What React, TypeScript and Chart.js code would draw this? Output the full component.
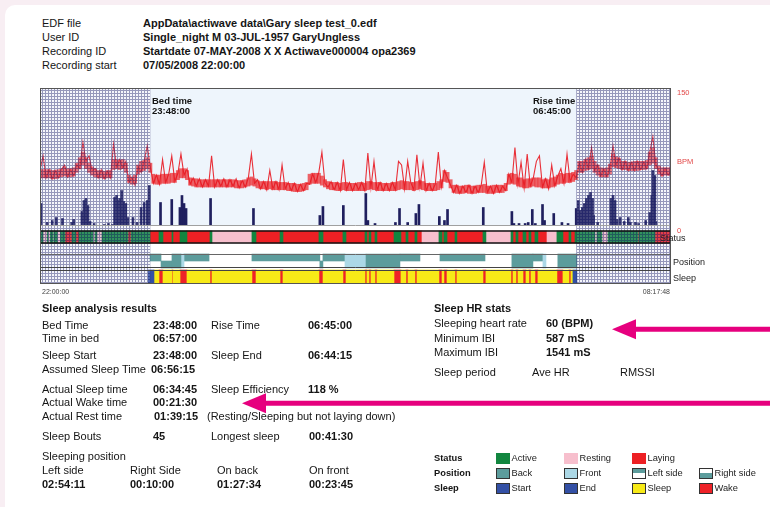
import React, { useEffect, useRef } from 'react';
import { Chart, registerables } from 'chart.js';
Chart.register(...registerables);

const FONT = 'Arial, "Liberation Sans", Helvetica, sans-serif';

// ---- time axis: minutes after 22:00:00 ----
const timeTickLabels = ['22:00:00', '08:17:48'];
const TOTAL_MIN = 617.8; // 08:17:48
const BED_MIN = 108; // 23:48:00
const RISE_MIN = 525; // 06:45:00
const HR_STEP_MIN = 3;

// ---- heart rate axis ----
const hrTickValues = [0, 75, 150];
const hrTickLabels = ['0', 'BPM', '150'];

// heart rate (BPM), one reading every 3 minutes
const hrBpm = [
  60, 76, 52, 61, 51, 60, 52, 61, 66, 53, 61, 54, 66, 62, 91, 70, 76, 60, 62, 52,
  61, 51, 59, 52, 89, 64, 72, 63, 70, 47, 52, 44, 64, 58, 70, 87, 64, 46, 55, 45,
  72, 47, 56, 76, 48, 57, 78, 55, 62, 45, 52, 43, 51, 42, 50, 43, 76, 42, 50, 43,
  51, 42, 50, 43, 51, 41, 49, 42, 52, 78, 46, 50, 40, 48, 39, 60, 40, 48, 39, 66,
  40, 47, 38, 46, 37, 45, 38, 46, 45, 56, 47, 58, 80, 46, 42, 48, 39, 47, 38, 72,
  39, 47, 38, 46, 39, 47, 38, 79, 41, 70, 39, 47, 38, 46, 38, 47, 39, 70, 66, 40,
  70, 47, 39, 77, 42, 68, 38, 46, 38, 45, 80, 42, 60, 52, 44, 36, 44, 35, 43, 36,
  44, 35, 43, 36, 44, 69, 36, 43, 35, 44, 36, 43, 38, 56, 47, 85, 45, 69, 41, 78,
  43, 52, 70, 76, 42, 51, 40, 66, 43, 54, 62, 46, 78, 48, 56, 52, 68, 58, 72, 62,
  85, 60, 66, 54, 62, 53, 63, 87, 66, 74, 61, 70, 60, 69, 60, 70, 61, 69, 62, 80,
  97, 66, 60, 54, 62, 55, 60,
];
// lowest / highest beat rate inside each 3 minute epoch (spikes excluded)
const hrLow = [
  52, 52, 52, 52, 51, 51, 52, 53, 54, 53, 53, 54, 58, 62, 66, 62, 58, 55, 53, 52,
  52, 51, 52, 52, 61, 62, 61, 62, 58, 47, 45, 46, 56, 59, 60, 62, 58, 46, 45, 45,
  46, 46, 46, 47, 47, 50, 52, 52, 50, 44, 43, 42, 42, 42, 42, 42, 42, 42, 42, 42,
  42, 42, 42, 42, 41, 41, 41, 42, 43, 44, 43, 41, 40, 40, 39, 40, 39, 39, 39, 39,
  39, 38, 38, 37, 37, 37, 38, 39, 45, 46, 46, 46, 44, 42, 40, 39, 39, 38, 38, 39,
  38, 38, 38, 38, 38, 38, 38, 39, 40, 39, 38, 38, 38, 38, 38, 38, 38, 39, 40, 39,
  39, 39, 38, 39, 40, 39, 38, 38, 38, 38, 39, 41, 48, 47, 41, 36, 35, 35, 35, 36,
  35, 35, 35, 36, 36, 36, 35, 35, 35, 36, 36, 36, 38, 45, 46, 45, 43, 42, 41, 41,
  42, 43, 42, 42, 41, 41, 41, 42, 43, 45, 46, 46, 47, 47, 48, 50, 58, 58, 60, 61,
  62, 58, 55, 53, 53, 53, 56, 64, 63, 62, 61, 61, 60, 60, 60, 60, 61, 61, 62, 66,
  68, 62, 56, 54, 55, 55, 55,
];
const hrHigh = [
  61, 61, 61, 61, 60, 60, 61, 62, 64, 62, 62, 63, 68, 74, 80, 74, 68, 64, 62, 60,
  60, 59, 60, 60, 72, 72, 71, 72, 68, 55, 53, 55, 66, 70, 71, 74, 68, 56, 55, 55,
  56, 56, 56, 57, 57, 60, 62, 62, 60, 52, 51, 51, 50, 50, 50, 50, 50, 50, 50, 50,
  50, 50, 50, 50, 49, 49, 49, 50, 52, 53, 51, 49, 48, 48, 48, 48, 48, 48, 47, 47,
  47, 46, 46, 46, 45, 45, 46, 47, 56, 57, 57, 57, 54, 50, 48, 47, 47, 47, 46, 47,
  47, 46, 46, 46, 47, 47, 46, 48, 48, 47, 47, 47, 46, 46, 46, 47, 47, 48, 49, 48,
  48, 47, 47, 48, 49, 48, 46, 46, 46, 46, 48, 50, 60, 58, 50, 44, 44, 43, 43, 44,
  44, 43, 43, 44, 44, 45, 43, 43, 44, 44, 44, 44, 46, 56, 57, 56, 52, 52, 50, 51,
  51, 52, 52, 52, 50, 51, 50, 52, 53, 55, 57, 56, 57, 57, 58, 60, 70, 70, 72, 74,
  76, 70, 66, 63, 62, 63, 67, 78, 75, 73, 70, 70, 69, 69, 70, 70, 70, 70, 71, 80,
  85, 74, 65, 63, 63, 63, 63,
];

// ---- activity (minutes, counts) ----
const activityMin = [
  1, 7, 12, 16, 22, 31, 33, 41, 43, 45, 47, 49, 53, 63, 67, 71, 73, 75, 76, 78, 80, 82, 84, 86,
  91, 95, 99, 102, 105, 107, 118, 129, 137, 139, 141, 143, 167, 209, 274, 277, 297, 319, 321,
  328, 348, 352, 360, 368, 371, 391, 396, 399, 434, 462, 464, 469, 475, 478, 482, 485, 492, 494,
  503, 511, 517, 525, 527, 529, 531, 533, 535, 537, 539, 541, 542, 546, 559, 561, 563, 565, 568,
  572, 576, 578, 583, 586, 593, 597, 599, 600, 602, 603,
];
const activityCount = [
  22, 3, 5, 8, 7, 3, 6, 14, 25, 27, 20, 4, 2, 1, 2, 1, 28, 30, 25, 27, 35, 24, 22, 8,
  8, 3, 18, 23, 25, 40, 23, 26, 18, 30, 22, 17, 27, 17, 10, 19, 20, 32, 5,
  2, 3, 17, 3, 12, 21, 9, 5, 16, 18, 14, 2, 2, 2, 3, 16, 2, 21, 5,
  12, 3, 2, 17, 25, 15, 18, 22, 27, 30, 33, 27, 10, 3, 27, 30, 25, 6, 8,
  4, 8, 3, 3, 2, 5, 13, 30, 55, 50, 4,
];

// ---- status band: A = Active, R = Resting, L = Laying ----
const statusStart = [
  0, 3, 7, 8, 10, 13, 14, 17, 20, 24.5, 31.3, 35.2, 38.2, 51.9, 53.8, 55.8, 60.7, 86.2, 89.1,
  107.7, 116.5, 120.4, 129.2, 130.2, 137.1, 143.9, 166.4, 168.4, 207.5, 211.5, 235, 237.9,
  273.1, 277.1, 296.6, 299.6, 318.2, 320.1, 322.1, 324, 328, 329.9, 346.6, 353.4, 358.3, 360.3,
  367.1, 369.1, 374, 390.6, 393.6, 395.5, 398.5, 406.3, 408.2, 433.7, 436.6, 461.1, 463.1, 466,
  468, 472.9, 475.8, 478.7, 480.7, 484.6, 487.5, 496.4, 506.1, 512, 517.9, 519.8, 523.8, 543.3,
  545.3, 550.2, 556.1, 585.4, 586.4, 602.1,
];
const statusCode = [
  'A', 'R', 'A', 'R', 'A', 'R', 'A', 'R', 'A', 'L', 'A', 'L', 'A', 'R', 'A', 'R', 'A', 'L', 'A',
  'L', 'A', 'L', 'A', 'L', 'A', 'L', 'A', 'R', 'A', 'L', 'A', 'L',
  'A', 'L', 'A', 'L', 'A', 'L', 'A', 'L', 'A', 'L', 'A', 'L', 'A', 'L',
  'A', 'L', 'R', 'A', 'L', 'A', 'L', 'A', 'L', 'A', 'R', 'A', 'L', 'A',
  'L', 'A', 'L', 'A', 'L', 'A', 'L', 'R', 'A', 'L', 'A', 'L', 'A', 'R',
  'A', 'R', 'A', 'L', 'A', 'L',
];

// ---- position band: B = Back, F = Front, L = Left side, R = Right side, N = none ----
const positionStart = [
  107.7, 118.5, 129.2, 138, 141, 165.5, 207.5, 274, 277, 298.6, 319.2, 352.4, 372, 391.6, 435.7,
  462, 482.6, 492.4, 495.4, 507,
];
const positionCode = ['L', 'R', 'B', 'F', 'L', 'N', 'L', 'R', 'L', 'F', 'B', 'L', 'N', 'L', 'N', 'B', 'L', 'F', 'N', 'B'];
const POSITION_END = 525.7;

// ---- sleep band: S = Start, Y = Sleep, W = Wake, E = End ----
const sleepStart = [
  106, 111.6, 116.5, 120.4, 129.2, 130.2, 137.1, 143.9, 166.4, 168.4, 207.5, 211.5, 235, 237.9,
  273.1, 277.1, 296.6, 299.6, 318.2, 320.1, 322.1, 324, 328, 329.9, 346.6, 353.4, 358.3, 360.3,
  367.1, 369.1, 390.6, 393.6, 395.5, 398.5, 406.3, 408.2, 433.7, 436.6, 461.1, 463.1, 466, 468,
  472.9, 475.8, 478.7, 480.7, 484.6, 487.5, 506.1, 512, 517.9, 519.8, 521.8,
];
const sleepCode = [
  'S', 'Y', 'W', 'Y', 'W', 'Y', 'W', 'Y', 'W', 'Y', 'W', 'Y', 'W', 'Y',
  'W', 'Y', 'W', 'Y', 'W', 'Y', 'W', 'Y', 'W', 'Y', 'W', 'Y', 'W', 'Y',
  'W', 'Y', 'W', 'Y', 'W', 'Y', 'W', 'Y', 'W', 'Y', 'W', 'Y', 'W', 'Y',
  'W', 'Y', 'W', 'Y', 'W', 'Y', 'W', 'Y', 'W', 'Y', 'E',
];
const SLEEP_END = 525.7;

// ---- colours ----
const C = {
  hr: 'rgba(232,26,34,0.9)',
  hrBand: 'rgba(236,40,46,0.72)',
  act: '#1f1f5e',
  active: '#12863f',
  resting: '#f7bfcd',
  laying: '#ed2024',
  back: '#5c9c9c',
  front: '#acd8e6',
  startEnd: '#3350a5',
  sleep: '#f7ea17',
  wake: '#ee2228',
  magenta: '#e6007e',
};

// band layout (units of the band axis: 1 unit = 1 px from the bottom of the chart area)
const ROWS = {
  status: { c: 47, h: 12 },
  posFull: { c: 23, h: 14 },
  posTop: { c: 26.5, h: 7 },
  posBottom: { c: 19.5, h: 7 },
  sleep: { c: 7, h: 14 },
};
const BAND_LINES = [
  { v: 58.5, c: '#a0a0a0', w: 1 },
  { v: 53, c: '#111', w: 1.5 },
  { v: 41, c: '#111', w: 1.5 },
  { v: 29.5, c: '#666', w: 1 },
  { v: 16.5, c: '#444', w: 1 },
  { v: 13.5, c: '#444', w: 1 },
];

function segments(starts: number[], codes: string[], end: number, code: string, row: number) {
  const out: any[] = [];
  for (let i = 0; i < starts.length; i++) {
    if (codes[i] !== code) continue;
    const e = i + 1 < starts.length ? starts[i + 1] : end;
    out.push({ x: [starts[i], e], y: row });
  }
  return out;
}

function band(label: string, data: any[], color: string, h: number) {
  return {
    type: 'bar' as const,
    label,
    data,
    backgroundColor: color,
    indexAxis: 'y' as const,
    xAxisID: 'x',
    yAxisID: 'yb',
    barThickness: h,
    grouped: false,
    borderWidth: 0,
    order: 5,
  };
}

const Txt = ({ x, y, s, b, size = 11, color = '#151515', right }: any) => (
  <div
    style={{
      position: 'absolute',
      left: right ? undefined : x,
      right: right ? 770 - x : undefined,
      top: y,
      transform: 'translateY(-50%)',
      fontSize: size,
      fontWeight: b ? 'bold' : 'normal',
      color,
      lineHeight: 1,
      whiteSpace: 'nowrap',
      fontFamily: FONT,
    }}
  >
    {s}
  </div>
);

const headerRows = [
  ['EDF file', 'AppData\\actiwave data\\Gary sleep test_0.edf'],
  ['User ID', 'Single_night M 03-JUL-1957 GaryUngless'],
  ['Recording ID', 'Startdate 07-MAY-2008 X X Actiwave000004 opa2369'],
  ['Recording start', '07/05/2008 22:00:00'],
];
const headerY = [23.3, 37.1, 50.9, 64.7];

const legendRows = [
  {
    title: 'Status',
    items: [
      { label: 'Active', bg: C.active, border: false },
      { label: 'Resting', bg: C.resting, border: false },
      { label: 'Laying', bg: C.laying, border: false },
    ],
  },
  {
    title: 'Position',
    items: [
      { label: 'Back', bg: C.back, border: true },
      { label: 'Front', bg: C.front, border: true },
      { label: 'Left side', bg: `linear-gradient(to bottom, ${C.back} 50%, #fff 50%)`, border: true },
      { label: 'Right side', bg: `linear-gradient(to bottom, #fff 50%, ${C.back} 50%)`, border: true },
    ],
  },
  {
    title: 'Sleep',
    items: [
      { label: 'Start', bg: C.startEnd, border: true },
      { label: 'End', bg: C.startEnd, border: true },
      { label: 'Sleep', bg: C.sleep, border: true },
      { label: 'Wake', bg: C.wake, border: true },
    ],
  },
];
const legendY = [458.8, 473.8, 488.8];
const legendX = [496, 564, 632, 699];

export default function App() {
  const ref = useRef<HTMLCanvasElement>(null);

  useEffect(() => {
    const canvas = ref.current!;
    const pc = document.createElement('canvas');
    pc.width = 3;
    pc.height = 3;
    const p = pc.getContext('2d')!;
    p.fillStyle = 'rgba(200,204,232,0.18)';
    p.fillRect(1, 1, 2, 2);
    p.fillStyle = 'rgba(45,50,120,0.5)';
    p.fillRect(0, 0, 3, 1);
    p.fillRect(0, 1, 1, 2);
    const pattern = canvas.getContext('2d')!.createPattern(pc, 'repeat');

    const decor = {
      id: 'decor',
      beforeDatasetsDraw(chart: any) {
        const { ctx, chartArea: a, scales } = chart;
        const x = scales.x;
        const yb = scales.yb;
        const xb = x.getPixelForValue(BED_MIN);
        const xr = x.getPixelForValue(RISE_MIN);
        ctx.save();
        ctx.fillStyle = '#eef5fc';
        ctx.fillRect(xb, a.top, xr - xb, yb.getPixelForValue(58.5) - a.top);
        ctx.restore();
      },
      afterDatasetsDraw(chart: any) {
        const { ctx, chartArea: a, scales } = chart;
        const x = scales.x;
        const yb = scales.yb;
        const yh = scales.yh;
        const xb = x.getPixelForValue(BED_MIN);
        const xr = x.getPixelForValue(RISE_MIN);
        ctx.save();
        if (pattern) {
          ctx.fillStyle = pattern;
          ctx.fillRect(a.left, a.top, xb - a.left, a.bottom - a.top);
          ctx.fillRect(xr, a.top, a.right - xr, a.bottom - a.top);
        }
        for (const l of BAND_LINES) {
          const y = yb.getPixelForValue(l.v);
          ctx.strokeStyle = l.c;
          ctx.lineWidth = l.w;
          ctx.beginPath();
          ctx.moveTo(a.left, y);
          ctx.lineTo(a.right, y);
          ctx.stroke();
        }
        ctx.strokeStyle = '#555';
        ctx.lineWidth = 1;
        ctx.strokeRect(a.left + 0.5, a.top + 0.5, a.right - a.left - 1, a.bottom - a.top - 1);
        ctx.fillStyle = '#e24848';
        ctx.font = `7.5px ${FONT}`;
        ctx.textAlign = 'left';
        ctx.textBaseline = 'middle';
        hrTickValues.forEach((v, i) => {
          ctx.fillText(hrTickLabels[i], a.right + 6, yh.getPixelForValue(v) + 5);
        });
        ctx.fillStyle = '#444';
        ctx.font = `7px ${FONT}`;
        ctx.textAlign = 'left';
        ctx.fillText(timeTickLabels[0], x.getPixelForValue(0) + 2, a.bottom + 8);
        ctx.textAlign = 'right';
        ctx.fillText(timeTickLabels[1], x.getPixelForValue(TOTAL_MIN) - 1, a.bottom + 8);
        ctx.restore();
      },
    };

    const chart = new Chart(canvas, {
      type: 'line',
      data: {
        datasets: [
          {
            type: 'line',
            label: 'Heart rate',
            data: hrBpm.map((v, i) => ({ x: i * HR_STEP_MIN, y: v })),
            borderColor: C.hr,
            borderWidth: 1.1,
            pointRadius: 0,
            tension: 0,
            xAxisID: 'x',
            yAxisID: 'yh',
            order: 0,
          },
          {
            type: 'bar',
            label: 'Heart rate range',
            data: hrLow.map((v, i) => ({ x: i * HR_STEP_MIN, y: [v, hrHigh[i]] })),
            backgroundColor: C.hrBand,
            barThickness: 3.3,
            grouped: false,
            borderWidth: 0,
            xAxisID: 'x',
            yAxisID: 'yh',
            order: 1,
          },
          {
            type: 'bar',
            label: 'Activity',
            data: activityMin.map((m, i) => ({ x: m, y: activityCount[i] })),
            backgroundColor: C.act,
            barThickness: 2,
            grouped: false,
            xAxisID: 'x',
            yAxisID: 'ya',
            order: 2,
          },
          band('Active', segments(statusStart, statusCode, TOTAL_MIN, 'A', ROWS.status.c), C.active, ROWS.status.h),
          band('Resting', segments(statusStart, statusCode, TOTAL_MIN, 'R', ROWS.status.c), C.resting, ROWS.status.h),
          band('Laying', segments(statusStart, statusCode, TOTAL_MIN, 'L', ROWS.status.c), C.laying, ROWS.status.h),
          band('Back', segments(positionStart, positionCode, POSITION_END, 'B', ROWS.posFull.c), C.back, ROWS.posFull.h),
          band('Front', segments(positionStart, positionCode, POSITION_END, 'F', ROWS.posFull.c), C.front, ROWS.posFull.h),
          band('Left side', segments(positionStart, positionCode, POSITION_END, 'L', ROWS.posTop.c), C.back, ROWS.posTop.h),
          band('Right side', segments(positionStart, positionCode, POSITION_END, 'R', ROWS.posBottom.c), C.back, ROWS.posBottom.h),
          band('Start', segments(sleepStart, sleepCode, SLEEP_END, 'S', ROWS.sleep.c), C.startEnd, ROWS.sleep.h),
          band('End', segments(sleepStart, sleepCode, SLEEP_END, 'E', ROWS.sleep.c), C.startEnd, ROWS.sleep.h),
          band('Sleep', segments(sleepStart, sleepCode, SLEEP_END, 'Y', ROWS.sleep.c), C.sleep, ROWS.sleep.h),
          band('Wake', segments(sleepStart, sleepCode, SLEEP_END, 'W', ROWS.sleep.c), C.wake, ROWS.sleep.h),
        ] as any,
      },
      options: {
        responsive: false,
        animation: false,
        events: [],
        layout: { padding: { left: 40, top: 88, right: 99, bottom: 223 } },
        plugins: { legend: { display: false }, tooltip: { enabled: false }, title: { display: false } },
        scales: {
          x: { type: 'linear', min: 0, max: TOTAL_MIN, display: false, offset: false },
          yh: { type: 'linear', position: 'right', min: -63.8, max: 150, display: false, offset: false },
          ya: { type: 'linear', min: -58.5, max: 137.5, display: false, offset: false },
          yb: { type: 'linear', min: 0, max: 196, display: false, offset: false },
        },
      } as any,
      plugins: [decor],
    });
    return () => chart.destroy();
  }, []);

  return (
    <div
      style={{
        position: 'fixed',
        left: 0,
        top: 0,
        width: 770,
        height: 507,
        background: '#f8eef3',
        overflow: 'hidden',
        fontFamily: FONT,
      }}
    >
      <div
        style={{
          position: 'absolute',
          left: 5,
          top: 5,
          width: 830,
          height: 560,
          background: '#fff',
          borderRadius: 10,
        }}
      />
      {headerRows.map((r, i) => (
        <React.Fragment key={r[0]}>
          <Txt x={42} y={headerY[i]} s={r[0]} />
          <Txt x={143} y={headerY[i]} s={r[1]} b />
        </React.Fragment>
      ))}

      <canvas ref={ref} width={770} height={507} style={{ position: 'absolute', left: 0, top: 0 }} />

      <Txt x={152} y={100.7} s="Bed time" b size={9.5} />
      <Txt x={152} y={110.7} s="23:48:00" b size={9.5} />
      <Txt x={533} y={100.7} s="Rise time" b size={9.5} />
      <Txt x={533} y={110.7} s="06:45:00" b size={9.5} />
      <Txt x={660} y={238} s="Status" size={9} color="#222" />
      <Txt x={673} y={261.7} s="Position" size={9} color="#222" />
      <Txt x={673} y={278.3} s="Sleep" size={9} color="#222" />

      <Txt x={42} y={308} s="Sleep analysis results" b />
      <Txt x={42} y={324.7} s="Bed Time" />
      <Txt x={153} y={324.7} s="23:48:00" b />
      <Txt x={211} y={324.7} s="Rise Time" />
      <Txt x={308} y={324.7} s="06:45:00" b />
      <Txt x={42} y={338} s="Time in bed" />
      <Txt x={153} y={338} s="06:57:00" b />
      <Txt x={42} y={355} s="Sleep Start" />
      <Txt x={153} y={355} s="23:48:00" b />
      <Txt x={211} y={355} s="Sleep End" />
      <Txt x={308} y={355} s="06:44:15" b />
      <Txt x={42} y={369.2} s="Assumed Sleep Time" />
      <Txt x={151} y={369.2} s="06:56:15" b />
      <Txt x={42} y={388.8} s="Actual Sleep time" />
      <Txt x={153} y={388.8} s="06:34:45" b />
      <Txt x={211} y={388.8} s="Sleep Efficiency" />
      <Txt x={308} y={388.8} s="118 %" b />
      <Txt x={42} y={402} s="Actual Wake time" />
      <Txt x={153} y={402} s="00:21:30" b />
      <Txt x={42} y={416.2} s="Actual Rest time" />
      <Txt x={154} y={416.2} s="01:39:15" b />
      <Txt x={207} y={416.2} s="(Resting/Sleeping but not laying down)" />
      <Txt x={42} y={435.5} s="Sleep Bouts" />
      <Txt x={153} y={435.5} s="45" b />
      <Txt x={211} y={435.5} s="Longest sleep" />
      <Txt x={309} y={435.5} s="00:41:30" b />
      <Txt x={42} y={455.5} s="Sleeping position" />
      <Txt x={42} y={469.7} s="Left side" />
      <Txt x={130} y={469.7} s="Right Side" />
      <Txt x={217} y={469.7} s="On back" />
      <Txt x={309} y={469.7} s="On front" />
      <Txt x={42} y={483.7} s="02:54:11" b />
      <Txt x={130} y={483.7} s="00:10:00" b />
      <Txt x={217} y={483.7} s="01:27:34" b />
      <Txt x={309} y={483.7} s="00:23:45" b />

      <Txt x={434} y={308.3} s="Sleep HR stats" b />
      <Txt x={434} y={323} s="Sleeping heart rate" />
      <Txt x={546} y={323} s="60 (BPM)" b />
      <Txt x={434} y={337.7} s="Minimum IBI" />
      <Txt x={546} y={337.7} s="587 mS" b />
      <Txt x={434} y={352.2} s="Maximum IBI" />
      <Txt x={546} y={352.2} s="1541 mS" b />
      <Txt x={434} y={372.2} s="Sleep period" />
      <Txt x={532} y={372.2} s="Ave HR" />
      <Txt x={620} y={372.2} s="RMSSI" />

      {legendRows.map((row, ri) => (
        <React.Fragment key={row.title}>
          <Txt x={434} y={legendY[ri]} s={row.title} b size={9.3} />
          {row.items.map((it, ii) => (
            <React.Fragment key={it.label + ii}>
              <div
                style={{
                  position: 'absolute',
                  left: legendX[ii],
                  top: legendY[ri] - 5.5,
                  width: 14,
                  height: 11,
                  boxSizing: 'border-box',
                  background: it.bg,
                  border: it.border ? '1px solid #333' : 'none',
                }}
              />
              <Txt x={legendX[ii] + 15.5} y={legendY[ri]} s={it.label} size={9.3} color="#222" />
            </React.Fragment>
          ))}
        </React.Fragment>
      ))}

      <svg width={770} height={507} style={{ position: 'absolute', left: 0, top: 0, pointerEvents: 'none' }}>
        <line x1={630} y1={329.3} x2={775} y2={329.3} stroke={C.magenta} strokeWidth={5} />
        <polygon points="612,329.3 636,319.3 636,339.3" fill={C.magenta} />
        <line x1={260} y1={403.3} x2={775} y2={403.3} stroke={C.magenta} strokeWidth={5} />
        <polygon points="242,403.3 266,393.3 266,413.3" fill={C.magenta} />
      </svg>
    </div>
  );
}
